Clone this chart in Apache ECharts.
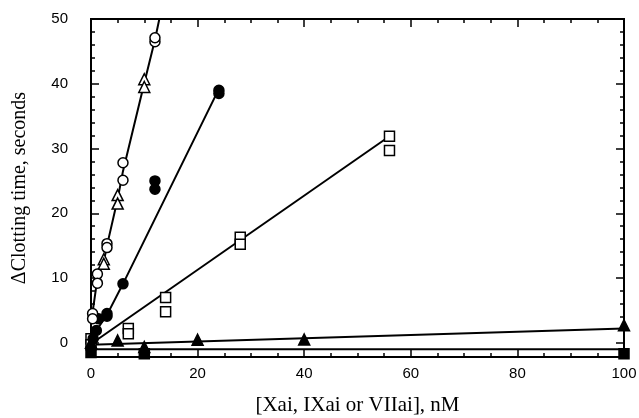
<!DOCTYPE html>
<html>
<head>
<meta charset="utf-8">
<script src="https://cdn.jsdelivr.net/npm/echarts@6/dist/echarts.min.js"></script>
<style>
  html, body { margin: 0; padding: 0; background: #fff; }
  #chart { width: 639px; height: 418px; }
</style>
</head>
<body>
<div id="chart"></div>
<script>
// 刻度
const xMajorTicks = [0, 20, 40, 60, 80, 100]
const xMinorTicks = [0, 5, 10, 15, 20, 25, 30, 35, 40, 45, 50, 55, 60, 65, 70, 75, 80, 85, 90, 95, 100]
const yMajorTicks = [0, 10, 20, 30, 40, 50]
const yMinorTicks = [-2, 0, 2, 4, 6, 8, 10, 12, 14, 16, 18, 20, 22, 24, 26, 28, 30, 32, 34, 36, 38, 40, 42, 44, 46, 48, 50]

// 数据点 [x, y]
const openCircles = [[0.3, 4.5], [0.3, 3.7], [1.2, 10.6], [1.2, 9.2], [3, 15.3], [3, 14.7], [6, 27.8], [6, 25.1], [12, 46.5], [12, 47.1]]
const openTriangles = [[2.4, 12.9], [2.4, 12.2], [5, 22.8], [5, 21.5], [10, 40.7], [10, 39.5]]
const filledCircles = [[0.4, 0.6], [1, 1.9], [1.4, 3.7], [3, 4.5], [3, 4.1], [6, 9.1], [12, 25], [12, 23.7], [24, 39], [24, 38.5]]
const openSquares = [[0, 0.6], [0, -0.3], [7, 2.2], [7, 1.4], [14, 7], [14, 4.8], [28, 16.3], [28, 15.2], [56, 31.9], [56, 29.7]]
const filledTriangles = [[0, 0], [5, 0.35], [10, -0.66], [20, 0.46], [40, 0.5], [100, 2.7]]
const filledSquares = [[0, -1.5], [10, -1.7], [100, -1.7]]

// 拟合线顶点
const openFit = [[0, 3], [1.2, 9.9], [2.4, 12.5], [3, 15], [5, 22.2], [6, 26.5], [10, 40.1], [12, 46.8], [13, 50.7]]
const filledFit = [[0, 0.3], [1, 1.9], [3, 4.3], [6, 9.1], [24, 39.2]]
const squareFit = [[0, -0.2], [56, 31.9]]
const triangleFit = [[0, -0.3], [100, 2.2]]
const filledSquareFit = [[0, -1.0], [100, -1.0]]

const black = '#000'
const tickStyle = { color: black, width: 1.5 }
const labelFont = { color: black, fontFamily: 'Liberation Sans', fontSize: 15 }

// 两个重叠的grid：一个画主刻度，一个画次刻度
const gridBox = { left: 91, right: 15, top: 19, bottom: 61, outerBoundsMode: 'none', containLabel: false }

function tickAxis (extra, values, len) {
  return Object.assign({
    type: 'value',
    // onZero要关掉，不然轴会跑到0的位置
    axisLine: { show: false, onZero: false },
    splitLine: { show: false },
    axisTick: { show: true, inside: true, length: len, customValues: values, lineStyle: tickStyle },
    axisLabel: { show: false }
  }, extra)
}

const xRange = { min: 0, max: 100 }
const yRange = { min: -2.2, max: 50 }

const chart = echarts.init(document.getElementById('chart'))

function fitLine (data) {
  return {
    type: 'line',
    data: data,
    xAxisIndex: 0,
    yAxisIndex: 0,
    symbol: 'none',
    clip: true,
    lineStyle: { color: black, width: 2 },
    z: 2,
    silent: true
  }
}

function scatter (data, symbol, size, filled) {
  return {
    type: 'scatter',
    data: data,
    xAxisIndex: 0,
    yAxisIndex: 0,
    symbol: symbol,
    symbolSize: size,
    clip: false,
    itemStyle: {
      color: filled ? black : '#fff',
      borderColor: black,
      borderWidth: 1.5,
      opacity: 1
    },
    z: 3
  }
}

chart.setOption({
  animation: false,
  backgroundColor: '#fff',
  grid: [
    Object.assign({ show: true, borderColor: black, borderWidth: 2, backgroundColor: 'transparent' }, gridBox),
    Object.assign({ show: false }, gridBox)
  ],
  xAxis: [
    tickAxis(Object.assign({
      gridIndex: 0,
      position: 'bottom',
      name: '[Xai, IXai or VIIai], nM',
      nameLocation: 'middle',
      nameGap: 38,
      nameTextStyle: { color: black, fontFamily: 'Liberation Serif', fontSize: 21 },
      axisLabel: Object.assign({ show: true, margin: 9, customValues: xMajorTicks }, labelFont)
    }, xRange), xMajorTicks, 8),
    tickAxis(Object.assign({ gridIndex: 0, position: 'top' }, xRange), xMajorTicks, 8),
    tickAxis(Object.assign({ gridIndex: 1, position: 'bottom' }, xRange), xMinorTicks, 4),
    tickAxis(Object.assign({ gridIndex: 1, position: 'top' }, xRange), xMinorTicks, 4)
  ],
  yAxis: [
    tickAxis(Object.assign({
      gridIndex: 0,
      position: 'left',
      name: 'ΔClotting time, seconds',
      nameLocation: 'middle',
      nameGap: 61,
      nameRotate: 90,
      nameTextStyle: { color: black, fontFamily: 'Liberation Serif', fontSize: 20 },
      axisLabel: Object.assign({ show: true, margin: 23, customValues: yMajorTicks }, labelFont)
    }, yRange), yMajorTicks, 8),
    tickAxis(Object.assign({ gridIndex: 0, position: 'right' }, yRange), yMajorTicks, 8),
    tickAxis(Object.assign({ gridIndex: 1, position: 'left' }, yRange), yMinorTicks, 4),
    tickAxis(Object.assign({ gridIndex: 1, position: 'right' }, yRange), yMinorTicks, 4)
  ],
  series: [
    fitLine(openFit),
    fitLine(filledFit),
    fitLine(squareFit),
    fitLine(triangleFit),
    fitLine(filledSquareFit),
    scatter(openSquares, 'rect', 10, false),
    scatter(filledTriangles, 'triangle', 11, true),
    scatter(filledSquares, 'rect', 10, true),
    scatter(filledCircles, 'circle', 10, true),
    scatter(openTriangles, 'triangle', 11, false),
    scatter(openCircles, 'circle', 10, false)
  ]
})
</script>
</body>
</html>
